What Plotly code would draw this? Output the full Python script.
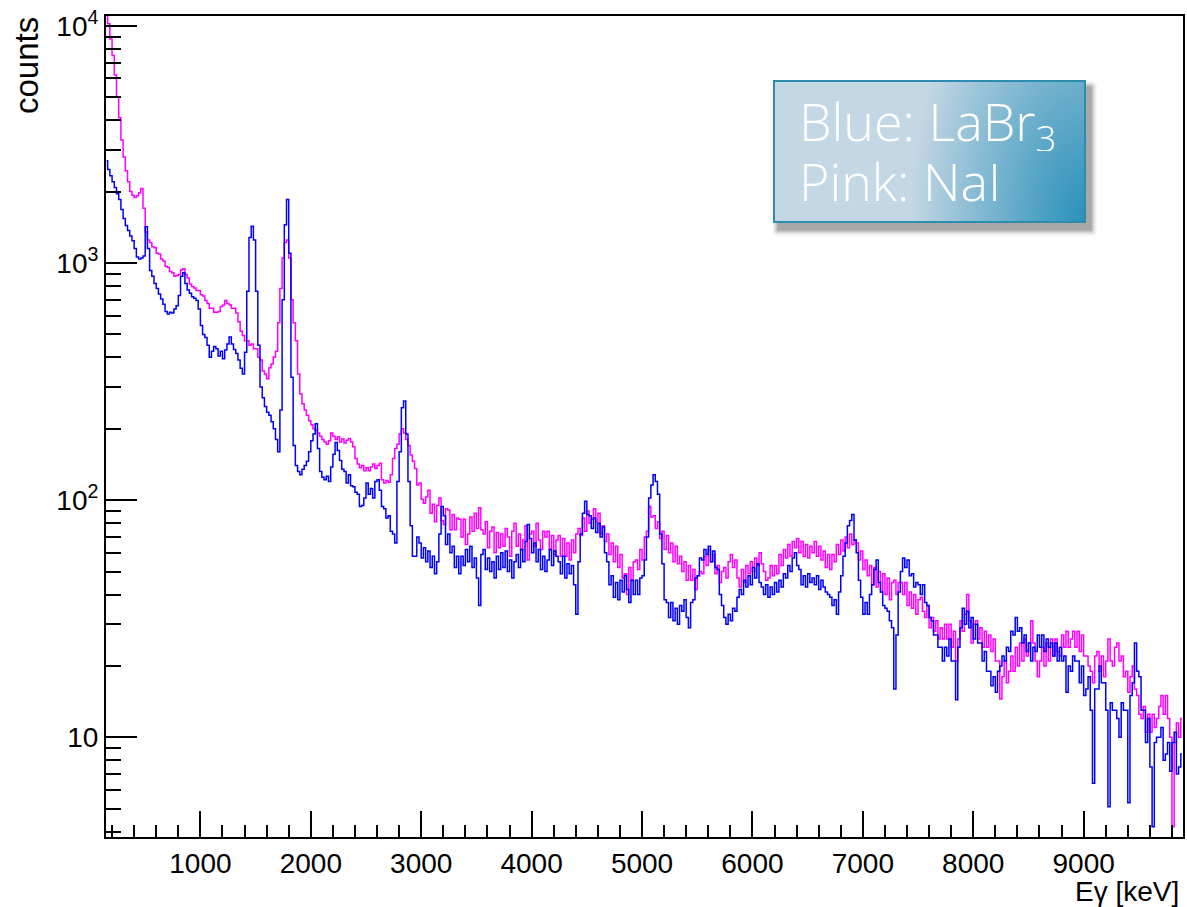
import base64
import struct
import zlib

import numpy as np
import plotly.graph_objects as go

# ---------------------------------------------------------------------------
# Spectrum data: counts per 20 keV bin, first bin centred at 150 keV.
# Each row holds 20 bins (400 keV); the comment gives the first/last centre.
# ---------------------------------------------------------------------------
BIN_START_KEV = 150
BIN_WIDTH_KEV = 20

labr3_counts = [
    2700, 2480, 2330, 2200, 2080, 1960, 1850, 1680, 1540, 1440, 1370, 1300, 1240, 1150, 1060, 1040, 1050, 1070, 1420, 1150,  # 150-530
    930, 880, 820, 780, 740, 705, 670, 625, 610, 620, 615, 640, 660, 730, 880, 910, 820, 770, 745, 720,                      # 550-930
    710, 695, 640, 545, 500, 485, 450, 400, 425, 445, 435, 405, 425, 395, 430, 455, 488, 455, 432, 415,                      # 950-1330
    390, 360, 340, 420, 760, 1280, 1430, 1250, 760, 450, 300, 270, 248, 235, 228, 214, 200, 180, 160, 240,                   # 1350-1730
    700, 1450, 1850, 1100, 330, 170, 140, 132, 128, 135, 140, 146, 160, 178, 190, 210, 165, 132, 125, 122,                   # 1750-2130
    126, 120, 138, 156, 175, 162, 147, 135, 132, 118, 128, 115, 114, 108, 106, 94, 95, 102, 118, 106,                        # 2150-2530
    112, 102, 120, 122, 110, 94, 92, 84, 86, 74, 72, 66, 120, 160, 245, 262, 190, 120, 78, 58,                               # 2550-2930
    58, 70, 66, 57, 63, 55, 61, 52, 58, 49, 55, 72, 94, 86, 65, 72, 60, 64, 52, 58,                                          # 2950-3330
    49, 58, 53, 62, 55, 64, 52, 57, 47, 36, 59, 62, 51, 57, 50, 55, 47, 58, 51, 60,                                          # 3350-3730
    52, 61, 50, 56, 47, 55, 59, 52, 62, 55, 67, 79, 69, 60, 66, 55, 62, 51, 58, 50,                                          # 3750-4130
    56, 62, 53, 61, 58, 55, 49, 58, 47, 54, 49, 53, 44, 33, 55, 72, 88, 99, 87, 86,                                          # 4150-4530
    76, 84, 73, 80, 70, 77, 60, 55, 44, 48, 39, 45, 38, 46, 41, 48, 42, 37, 46, 40,                                          # 4550-4930
    46, 40, 47, 48, 56, 70, 102, 116, 128, 120, 106, 72, 54, 38, 37, 32, 37, 31, 35, 30,                                     # 4950-5330
    36, 34, 38, 32, 29, 37, 38, 47, 48, 57, 56, 62, 59, 64, 55, 61, 52, 51, 40, 36,                                          # 5350-5730
    32, 30, 33, 31, 35, 34, 39, 42, 40, 46, 43, 48, 44, 52, 47, 54, 45, 43, 40, 44,                                          # 5750-6130
    39, 43, 40, 45, 41, 46, 43, 49, 47, 53, 50, 57, 60, 53, 51, 44, 48, 43, 49, 45,                                          # 6150-6530
    47, 44, 48, 42, 46, 43, 41, 40, 39, 36, 38, 33, 41, 48, 58, 66, 78, 82, 87, 68,                                          # 6550-6930
    60, 46, 39, 33, 37, 33, 40, 44, 51, 56, 45, 41, 36, 35, 34, 31, 29, 16, 27, 41,                                          # 6950-7330
    50, 57, 52, 56, 48, 49, 43, 45, 44, 40, 44, 37, 36, 32, 31, 27, 27, 24, 24, 21,                                          # 7350-7730
    24, 22, 26, 21, 21, 14.4, 24, 29, 35, 30, 34, 29, 32, 26, 30, 25, 25, 21, 23, 19,                                        # 7750-8130
    19, 16.5, 18, 15.5, 19, 20, 22, 21, 24, 23, 28, 27, 32, 28, 29, 25, 27, 23, 25, 21,                                      # 8150-8530
    24, 23, 27, 24, 27, 23, 26, 24, 25, 22, 25, 21, 24, 21, 22, 15.5, 20, 19, 22, 21,                                        # 8550-8930
    21, 17, 20, 15, 16, 18, 13, 6.4, 16, 16, 20, 17, 17, 13, 5.1, 14, 13, 13, 12, 10,                                        # 8950-9330
    14, 13, 13, 5.3, 15, 17, 25, 19, 18, 13, 13, 9.5, 12, 7.5, 4.2, 9.5, 10, 10, 11, 8,                                      # 9350-9730
    8.5, 9.5, 7.2, 9.5, 10.5, 7, 7.5, 8.5,                                                                                   # 9750-9890
]

nai_counts = [
    11500, 10200, 8800, 7500, 6200, 5000, 4100, 3300, 2800, 2450, 2200, 2000, 1930, 1890, 1920, 1980, 2060, 1700, 1350, 1250,  # 150-530
    1220, 1170, 1160, 1100, 1090, 1040, 1020, 970, 960, 920, 910, 880, 885, 895, 935, 945, 895, 865, 815, 795,                 # 550-930
    785, 765, 765, 735, 725, 695, 675, 645, 645, 620, 620, 625, 655, 665, 695, 675, 665, 645, 645, 615,                        # 950-1330
    565, 515, 495, 470, 470, 450, 455, 435, 435, 400, 390, 350, 340, 325, 362, 375, 400, 425, 560, 780,                        # 1350-1730
    1050, 1220, 1250, 1050, 700, 560, 470, 340, 280, 255, 240, 228, 216, 208, 200, 197, 192, 186, 180, 176,                    # 1750-2130
    172, 178, 192, 186, 180, 185, 176, 181, 174, 179, 182, 176, 168, 150, 142, 137, 140, 133, 137, 133,                        # 2150-2530
    138, 142, 136, 140, 143, 122, 118, 121, 119, 128, 150, 165, 172, 190, 200, 192, 180, 170, 155, 146,                        # 2550-2930
    136, 116, 118, 101, 97, 103, 110, 88, 96, 81, 95, 102, 82, 79, 92, 91, 75, 87, 75, 84,                                     # 2950-3330
    83, 70, 83, 65, 72, 85, 74, 88, 76, 93, 75, 72, 81, 63, 74, 77, 60, 73, 63, 72,                                            # 3350-3730
    64, 76, 70, 58, 74, 80, 64, 72, 62, 68, 78, 56, 72, 74, 64, 80, 68, 62, 74, 70,                                            # 3750-4130
    74, 62, 71, 59, 68, 71, 58, 69, 58, 66, 56, 68, 60, 72, 76, 71, 84, 74, 90, 80,                                            # 4150-4530
    83, 92, 81, 88, 72, 78, 67, 72, 59, 66, 55, 64, 52, 59, 47, 49, 40, 52, 46, 55,                                            # 4550-4930
    56, 51, 62, 56, 70, 74, 94, 85, 86, 76, 81, 69, 74, 62, 71, 60, 66, 55, 64, 54,                                            # 4950-5330
    58, 50, 55, 46, 53, 46, 51, 42, 48, 50, 49, 58, 53, 62, 55, 59, 49, 53, 45, 50,                                            # 5350-5730
    52, 47, 55, 59, 52, 56, 47, 43, 51, 45, 53, 49, 55, 50, 57, 53, 60, 54, 50, 46,                                            # 5750-6130
    47, 53, 48, 53, 49, 59, 53, 62, 57, 65, 58, 67, 63, 69, 60, 67, 58, 65, 57, 64,                                            # 6150-6530
    60, 67, 58, 64, 56, 61, 52, 59, 51, 59, 55, 65, 59, 68, 61, 70, 63, 72, 65, 68,                                            # 6550-6930
    66, 56, 61, 51, 56, 48, 53, 44, 52, 43, 50, 41, 49, 40, 47, 38, 45, 46, 40, 45,                                            # 6950-7330
    45, 40, 45, 36, 41, 35, 40, 33, 38, 39, 34, 32, 36, 29, 32, 28, 31, 26, 29, 26,                                            # 7350-7730
    30, 26, 30, 24, 28, 21, 26, 31, 28, 33, 40, 31, 25, 30, 31, 26, 29, 24, 28, 24,                                            # 7750-8130
    27, 23, 26, 21, 21, 14.5, 18, 21, 17, 19, 22, 19, 24, 20, 25, 21, 26, 22, 25, 31,                                          # 8150-8530
    25, 21, 18, 21, 24, 20, 25, 21, 26, 22, 26, 23, 22, 27, 24, 28, 24, 26, 28, 24,                                            # 8550-8930
    28, 23, 27, 22, 22, 20, 19, 17, 22, 23, 19, 22, 18, 21, 26, 21, 20, 24, 25, 21,                                            # 8950-9330
    22, 18, 19, 15.5, 18, 20, 16, 15, 12.5, 12, 13.5, 10.5, 12.5, 10.5, 12.5, 11, 12, 13.5, 15, 12.5,                          # 9350-9730
    15, 12, 10, 4.2, 9.5, 11.5, 10, 12,                                                                                        # 9750-9890
]

assert len(labr3_counts) == len(nai_counts)
energy_keV = BIN_START_KEV + BIN_WIDTH_KEV * np.arange(len(labr3_counts))

y_major_vals = [10, 100, 1000, 10000]
y_major_text = ["10", "10<sup>2</sup>", "10<sup>3</sup>", "10<sup>4</sup>"]
y_minor_vals = [m * d for d in (1, 10, 100, 1000) for m in range(2, 10) if 3.8 < m * d < 11000]

# ---------------------------------------------------------------------------
# Page geometry (pixels)
# ---------------------------------------------------------------------------
FIG_W, FIG_H = 1187, 907
M_L, M_R, M_T, M_B = 106, 4, 16, 70
PLOT_W = FIG_W - M_L - M_R
PLOT_H = FIG_H - M_T - M_B


def px_to_paper(px, py):
    return (px - M_L) / PLOT_W, 1 - (py - M_T) / PLOT_H


# ---------------------------------------------------------------------------
# Text box with gradient fill and drop shadow, rendered as an inline PNG
# ---------------------------------------------------------------------------
BOX_X0, BOX_Y0, BOX_W, BOX_H = 773, 80, 313, 143
PAD = 14


def make_png(rgba):
    h, w, _ = rgba.shape
    raw = b"".join(b"\x00" + rgba[r].tobytes() for r in range(h))

    def chunk(tag, data):
        c = struct.pack(">I", len(data)) + tag + data
        return c + struct.pack(">I", zlib.crc32(tag + data) & 0xFFFFFFFF)

    png = b"\x89PNG\r\n\x1a\n"
    png += chunk(b"IHDR", struct.pack(">IIBBBBB", w, h, 8, 6, 0, 0, 0))
    png += chunk(b"IDAT", zlib.compress(raw, 9))
    png += chunk(b"IEND", b"")
    return "data:image/png;base64," + base64.b64encode(png).decode()


def legend_box_image():
    W, H = BOX_W + PAD, BOX_H + PAD
    yy, xx = np.mgrid[0:H, 0:W].astype(float) + 0.5
    img = np.zeros((H, W, 4), float)

    # soft shadow, offset down and right
    sx0, sy0, sx1, sy1 = 5, 7, BOX_W + 5, BOX_H + 7
    dx = np.maximum(np.maximum(sx0 - xx, xx - sx1), 0)
    dy = np.maximum(np.maximum(sy0 - yy, yy - sy1), 0)
    d = np.hypot(dx, dy)
    sh_a = 0.5 * np.clip(1 - d / 8.0, 0, 1) ** 2
    img[..., 0:3] = 80
    img[..., 3] = sh_a * 255

    # gradient fill: light steel blue, darkening toward the lower-right corner
    light = np.array([196, 215, 228], float)
    dark = np.array([44, 146, 187], float)
    inside = (xx < BOX_W) & (yy < BOX_H)
    gx = (BOX_W - xx) / 175.0
    gy = (BOX_H - yy) / 300.0
    t = np.clip(np.hypot(gx, gy), 0, 1) ** 1.1
    col = dark[None, None, :] + (light - dark)[None, None, :] * t[..., None]
    img[inside, 0:3] = col[inside]
    img[inside, 3] = 255

    # border
    border = inside & ((xx < 2) | (yy < 2) | (xx > BOX_W - 2) | (yy > BOX_H - 2))
    img[border, 0:3] = [46, 140, 175]

    return make_png(np.clip(img, 0, 255).astype(np.uint8)), W, H


box_src, box_w, box_h = legend_box_image()

# ---------------------------------------------------------------------------
# Figure
# ---------------------------------------------------------------------------
fig = go.Figure()

fig.add_trace(go.Scatter(
    x=energy_keV, y=nai_counts, mode="lines", name="NaI",
    line=dict(color="#ff00ff", width=1.5, shape="hvh"),
))
fig.add_trace(go.Scatter(
    x=energy_keV, y=labr3_counts, mode="lines", name="LaBr3",
    line=dict(color="#0000ff", width=1.5, shape="hvh"),
))

axis_font = dict(family="Liberation Sans, Arial, sans-serif", size=28, color="black")

fig.update_xaxes(
    range=[145, 9900],
    showgrid=False, zeroline=False,
    showline=True, linecolor="black", linewidth=2, mirror=True,
    tickmode="linear", tick0=0, dtick=1000, tickformat="d",
    ticks="inside", ticklen=26, tickwidth=1.5, tickcolor="black",
    minor=dict(ticks="inside", ticklen=12, tickwidth=1.5, tickcolor="black",
               tick0=0, dtick=200, showgrid=False),
    tickfont=axis_font,
)
fig.update_yaxes(
    type="log",
    range=[np.log10(3.8), np.log10(11000)],
    showgrid=False, zeroline=False,
    showline=True, linecolor="black", linewidth=2, mirror=True,
    tickmode="array", tickvals=y_major_vals, ticktext=y_major_text,
    ticks="inside", ticklen=31, tickwidth=1.5, tickcolor="black",
    minor=dict(ticks="inside", ticklen=15, tickwidth=1.5, tickcolor="black",
               tickvals=y_minor_vals, showgrid=False),
    tickfont=axis_font,
)

bx, by = px_to_paper(BOX_X0, BOX_Y0)
fig.add_layout_image(
    source=box_src, xref="paper", yref="paper",
    x=bx, y=by, sizex=box_w / PLOT_W, sizey=box_h / PLOT_H,
    xanchor="left", yanchor="top", sizing="stretch", layer="above",
)

# two legend lines, each in a fixed-height box so the lines sit 56 px apart
legend_font = dict(family="Open Sans, Noto Sans, sans-serif", size=52, color="white", weight=300)
for text, cy in (("Blue: LaBr<sub>3</sub>", 124), ("Pink: NaI", 180)):
    ax_, ay_ = px_to_paper(797, cy)
    fig.add_annotation(
        text=text, x=ax_, y=ay_, xref="paper", yref="paper",
        xanchor="left", yanchor="middle", valign="middle", height=54,
        showarrow=False, font=legend_font,
    )

tx, ty = px_to_paper(27, 66)
fig.add_annotation(
    text="counts", x=tx, y=ty, xref="paper", yref="paper",
    textangle=-90, xanchor="center", yanchor="middle", showarrow=False,
    font=dict(family="Liberation Sans, Arial, sans-serif", size=33, color="black"),
)
tx, ty = px_to_paper(1181, 891)
fig.add_annotation(
    text="Eγ [keV]", x=tx, y=ty, xref="paper", yref="paper",
    xanchor="right", yanchor="middle", showarrow=False,
    font=dict(family="Liberation Sans, Arial, sans-serif", size=28, color="black"),
)

fig.update_layout(
    width=FIG_W, height=FIG_H,
    margin=dict(l=M_L, r=M_R, t=M_T, b=M_B, autoexpand=False),
    paper_bgcolor="white", plot_bgcolor="white",
    showlegend=False,
)

fig.write_html("out.html", config={"displayModeBar": False})
